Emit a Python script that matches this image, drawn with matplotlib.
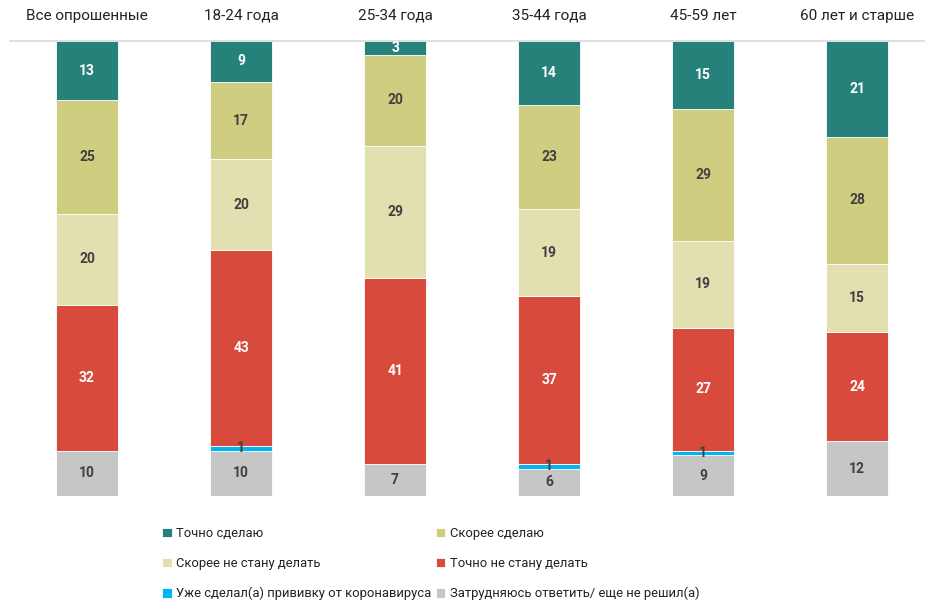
import matplotlib
matplotlib.use("Agg")
import matplotlib.pyplot as plt
import numpy as np

plt.rcParams['font.family'] = ['Roboto', 'DejaVu Sans']

categories = ["Все опрошенные", "18-24 года", "25-34 года", "35-44 года", "45-59 лет", "60 лет и старше"]
series_names = ["Точно сделаю", "Скорее сделаю", "Скорее не стану делать",
                "Точно не стану делать", "Уже сделал(а) прививку от коронавируса",
                "Затрудняюсь ответить/ еще не решил(а)"]
definitely_yes = [13, 9, 3, 14, 15, 21]
rather_yes = [25, 17, 20, 23, 29, 28]
rather_no = [20, 20, 29, 19, 19, 15]
definitely_no = [32, 43, 41, 37, 27, 24]
already_done = [0, 1, 0, 1, 1, 0]
hard_to_say = [10, 10, 7, 6, 9, 12]

colors = {
    "Точно сделаю": "#26817A",
    "Скорее сделаю": "#CFCD7F",
    "Скорее не стану делать": "#E2DFB1",
    "Точно не стану делать": "#D84B3C",
    "Уже сделал(а) прививку от коронавируса": "#00B6EE",
    "Затрудняюсь ответить/ еще не решил(а)": "#C6C6C6",
}
label_colors = {
    "Точно сделаю": "white",
    "Скорее сделаю": "#404040",
    "Скорее не стану делать": "#404040",
    "Точно не стану делать": "white",
    "Уже сделал(а) прививку от коронавируса": "#404040",
    "Затрудняюсь ответить/ еще не решил(а)": "#404040",
}

fig = plt.figure(figsize=(9.25, 6.03), dpi=100)
ax = fig.add_axes([10/925, 1-496/603, 915/925, (496-41)/603])

x = np.arange(len(categories))
# stack order from bottom
stack = [
    ("Затрудняюсь ответить/ еще не решил(а)", hard_to_say),
    ("Уже сделал(а) прививку от коронавируса", already_done),
    ("Точно не стану делать", definitely_no),
    ("Скорее не стану делать", rather_no),
    ("Скорее сделаю", rather_yes),
    ("Точно сделаю", definitely_yes),
]
handles = {}
bottom = np.zeros(len(categories))
for name, vals in stack:
    vals = np.array(vals, dtype=float)
    bars = ax.bar(x, vals, bottom=bottom, width=0.405, color=colors[name],
                  edgecolor="white", linewidth=0.6, label=name)
    handles[name] = bars
    for xi, b, v in zip(x, bottom, vals):
        if v > 0:
            ax.text(xi, b + v/2, f"{int(v)}", ha="center", va="center",
                    fontsize=10, fontweight="bold", color=label_colors[name])
    bottom += vals

ax.set_xlim(-0.5, 5.44)
ax.set_ylim(0, 100)
for s in ["left", "right", "bottom"]:
    ax.spines[s].set_visible(False)
ax.spines["top"].set_color("#D9D9D9")
ax.spines["top"].set_linewidth(1.2)
ax.set_yticks([])
ax.xaxis.tick_top()
ax.set_xticks(x)
ax.set_xticklabels(categories, fontsize=11, color="#222222")
ax.tick_params(axis="x", length=0, pad=13)

order = ["Точно сделаю", "Скорее не стану делать", "Уже сделал(а) прививку от коронавируса",
         "Скорее сделаю", "Точно не стану делать", "Затрудняюсь ответить/ еще не решил(а)"]
leg = fig.legend([handles[n] for n in order], order, ncol=2, loc="upper left",
                 bbox_to_anchor=(162/925, 1-527/603), frameon=False,
                 fontsize=9.4, handlelength=0.75, handleheight=0.75,
                 handletextpad=0.35, columnspacing=0.3, labelspacing=1.3,
                 borderaxespad=0, borderpad=0)
for t in leg.get_texts():
    t.set_color("#222222")

fig.savefig("out.png", dpi=100)
